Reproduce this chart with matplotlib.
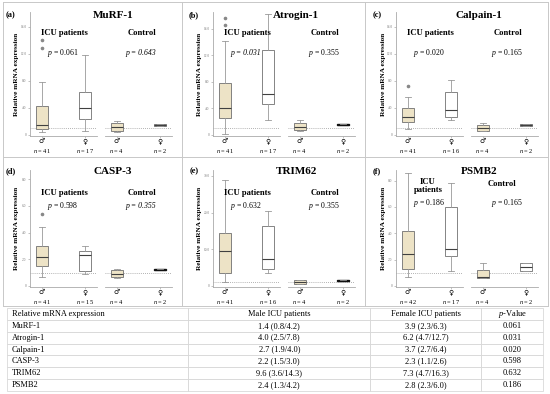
import matplotlib
matplotlib.use("Agg")
import matplotlib.pyplot as plt
from matplotlib.lines import Line2D

plt.rcParams['font.family'] = ['Liberation Serif', 'DejaVu Sans']
plt.rcParams['mathtext.fontset'] = 'custom'
plt.rcParams['mathtext.rm'] = 'Liberation Serif'
plt.rcParams['mathtext.it'] = 'Liberation Serif:italic'
plt.rcParams['mathtext.bf'] = 'Liberation Serif:bold'

genes = ["MuRF-1", "Atrogin-1", "Calpain-1", "CASP-3", "TRIM62", "PSMB2"]
letters = ["(a)", "(b)", "(c)", "(d)", "(e)", "(f)"]

icu_m_med = [1.4, 4.0, 2.7, 2.2, 9.6, 2.4]
icu_m_q1 = [0.8, 2.5, 1.9, 1.5, 3.6, 1.3]
icu_m_q3 = [4.2, 7.8, 4.0, 3.0, 14.3, 4.2]
icu_m_lo = [0.4, 0.1, 0.9, 0.7, 1.0, 0.7]
icu_m_hi = [7.8, 14.2, 5.6, 4.4, 29.0, 8.6]
icu_m_out = [[12.9, 14.1], [16.5, 17.6], [7.2], [5.4], [], []]

icu_f_med = [3.9, 6.2, 3.7, 2.3, 7.3, 2.8]
icu_f_q1 = [2.3, 4.7, 2.7, 1.1, 4.7, 2.3]
icu_f_q3 = [6.3, 12.7, 6.4, 2.6, 16.3, 6.0]
icu_f_lo = [0.5, 2.2, 2.2, 0.9, 3.5, 1.1]
icu_f_hi = [11.8, 18.2, 8.1, 3.0, 20.5, 7.8]

ctl_m_med = [1.1, 1.1, 1.0, 0.9, 1.0, 0.7]
ctl_m_q1 = [0.6, 0.7, 0.6, 0.7, 0.5, 0.6]
ctl_m_q3 = [1.8, 1.7, 1.4, 1.2, 1.5, 1.2]
ctl_m_lo = [0.4, 0.5, 0.5, 0.6, 0.4, 0.6]
ctl_m_hi = [2.0, 2.3, 1.8, 1.3, 1.6, 1.7]

ctl_f_med = [1.45, 1.5, 1.45, 1.2, 1.4, 1.4]
ctl_f_q1 = [1.3, 1.42, 1.3, 1.16, 1.25, 1.1]
ctl_f_q3 = [1.6, 1.58, 1.6, 1.24, 1.55, 1.7]

n_icu_m = [41, 41, 41, 41, 41, 42]
n_icu_f = [17, 17, 16, 15, 16, 17]
n_ctl_m = [4, 4, 4, 4, 4, 4]
n_ctl_f = [2, 2, 2, 2, 2, 2]

p_icu = ["0.061", "0.031", "0.020", "0.598", "0.632", "0.186"]
p_ctl = ["0.643", "0.355", "0.165", "0.355", "0.355", "0.165"]
p_icu_italic = [False, True, False, False, False, False]
p_ctl_italic = [True, False, False, True, False, False]

yticks = [[0, 4, 8, 12, 16]] * 3 + [[0, 2, 4, 6, 8], [0, 10, 20, 30], [0, 2, 4, 6, 8]]
ytop = [18.2, 18.5, 18.2, 8.7, 31.6, 8.8]

# ---- styles ----
BEIGE = "#ede3c6"
ctl_f_fill = ["#9a9a9a", "#111111", "#9a9a9a", "#111111", "#111111", "white"]
FRAME = "#c8c8c8"
W, H = 550, 394


def fx(x):
    return x / W


def fy(y):
    return 1 - y / H


def stats(med, q1, q3, lo, hi, fl=()):
    return dict(med=med, q1=q1, q3=q3, whislo=lo, whishi=hi, fliers=list(fl))


def draw_boxes(ax, data, fills, pos=(1, 2)):
    bp = ax.bxp(data, positions=list(pos), widths=0.28, patch_artist=True,
                showfliers=True, capwidths=0.14,
                boxprops=dict(edgecolor="#707070", linewidth=0.6),
                whiskerprops=dict(color="#999999", linewidth=0.6),
                capprops=dict(color="#999999", linewidth=0.6),
                medianprops=dict(color="#404040", linewidth=0.8),
                flierprops=dict(marker="o", markersize=1.6, markerfacecolor="#888888",
                                markeredgecolor="#888888"))
    for b, m, c in zip(bp["boxes"], bp["medians"], fills):
        b.set_facecolor(c)
        if c == "#111111":
            b.set_edgecolor(c)
            b.set_linewidth(1.0)
            m.set_color(c)


def style_axis(ax, left):
    for s in ["top", "right"]:
        ax.spines[s].set_visible(False)
    ax.spines["bottom"].set_color("#aaaaaa")
    ax.spines["bottom"].set_linewidth(0.6)
    ax.spines["left"].set_color("#aaaaaa")
    ax.spines["left"].set_linewidth(0.6)
    ax.spines["left"].set_visible(left)
    ax.set_xlim(0.72, 2.28)
    ax.set_xticks([1, 2])
    ax.set_xticklabels(["\u2642", "\u2640"], fontfamily="DejaVu Sans", fontsize=5)
    ax.tick_params(axis="x", length=1.5, width=0.5, color="#aaaaaa", pad=0.3)
    ax.tick_params(axis="y", length=1.5, width=0.5, color="#aaaaaa", pad=1,
                   labelsize=2.5, labelcolor="#777777", left=left, labelleft=left)
    ax.axhline(1, color="#999999", lw=0.6, ls=(0, (1, 1.5)), zorder=0.5)
    ax.patch.set_alpha(0)


fig = plt.figure(figsize=(W / 100, H / 100), dpi=100)

panel_x = [0, 183, 366, 0, 183, 366]
panel_top = [0, 0, 0, 156, 156, 156]

for i, g in enumerate(genes):
    x0, t0 = panel_x[i], panel_top[i]
    top_px, bot_px = (12, 136) if i < 3 else (170, 287)
    h = (bot_px - top_px) / H
    ax1 = fig.add_axes([fx(x0 + 30), fy(bot_px), 67 / W, h])
    ax2 = fig.add_axes([fx(x0 + 105), fy(bot_px), 67 / W, h])

    draw_boxes(ax1, [stats(icu_m_med[i], icu_m_q1[i], icu_m_q3[i], icu_m_lo[i], icu_m_hi[i], icu_m_out[i]),
                     stats(icu_f_med[i], icu_f_q1[i], icu_f_q3[i], icu_f_lo[i], icu_f_hi[i])],
               [BEIGE, "white"])
    draw_boxes(ax2, [stats(ctl_m_med[i], ctl_m_q1[i], ctl_m_q3[i], ctl_m_lo[i], ctl_m_hi[i]),
                     stats(ctl_f_med[i], ctl_f_q1[i], ctl_f_q3[i], ctl_f_q1[i], ctl_f_q3[i])],
               [BEIGE, ctl_f_fill[i]])

    for ax, left in [(ax1, True), (ax2, False)]:
        style_axis(ax, left)
        ax.set_ylim(-0.01 * ytop[i], ytop[i])
        ax.set_yticks(yticks[i])
        ax.set_yticklabels(["0"] + [f"{v:.1f}" for v in yticks[i][1:]])

    for ax, ns in [(ax1, (n_icu_m[i], n_icu_f[i])), (ax2, (n_ctl_m[i], n_ctl_f[i]))]:
        for pos, n in zip([1, 2], ns):
            ax.annotate(f"$n$ = {n}", xy=(pos, 0), xycoords=("data", "axes fraction"),
                        xytext=(0, -11), textcoords="offset points",
                        ha="center", va="center", fontsize=4.6)

    # labels
    fig.text(fx(x0 + 11), fy(t0 + 15), letters[i], fontsize=6, fontweight="bold",
             ha="center", va="center")
    fig.text(fx(x0 + 113), fy(t0 + 16), g, fontsize=8, fontweight="bold",
             ha="center", va="center")
    fig.text(fx(x0 + 17), fy((top_px + bot_px) / 2), "Relative mRNA expression",
             rotation=90, fontsize=5.2, fontweight="bold", ha="center", va="center")

    if i < 3:
        y_lab, y_p = t0 + 33, t0 + 53
    else:
        y_lab, y_p = t0 + 37, t0 + 50
    if g == "PSMB2":
        fig.text(fx(x0 + 62), fy(t0 + 30), "ICU\npatients", fontsize=6.2, fontweight="bold",
                 ha="center", va="center", linespacing=1.0)
        fig.text(fx(x0 + 136), fy(t0 + 28), "Control", fontsize=6.2, fontweight="bold",
                 ha="center", va="center")
        y_p = t0 + 47
    else:
        fig.text(fx(x0 + 64), fy(y_lab), "ICU patients", fontsize=6.2, fontweight="bold",
                 ha="center", va="center")
        fig.text(fx(x0 + 142), fy(y_lab), "Control", fontsize=6.2, fontweight="bold",
                 ha="center", va="center")
    for xc, pv, it in [(x0 + 63, p_icu[i], p_icu_italic[i]), (x0 + 141, p_ctl[i], p_ctl_italic[i])]:
        if it:
            fig.text(fx(xc), fy(y_p), f"p = {pv}", fontsize=5.6, fontstyle="italic",
                     ha="center", va="center")
        else:
            fig.text(fx(xc), fy(y_p), f"$p$ = {pv}", fontsize=5.6, ha="center", va="center")

# panel frame lines
for xv in [3, 182, 365, 548]:
    fig.add_artist(Line2D([fx(xv), fx(xv)], [fy(2), fy(306)], color=FRAME, lw=0.7))
for yv in [2, 157, 306]:
    fig.add_artist(Line2D([fx(3), fx(548)], [fy(yv), fy(yv)], color=FRAME, lw=0.7))

# ---- summary table ----
header = ["Relative mRNA expression", "Male ICU patients", "Female ICU patients", "$p$-Value"]
rows = []
for i, g in enumerate(genes):
    rows.append([g,
                 f"{icu_m_med[i]:.1f} ({icu_m_q1[i]:.1f}/{icu_m_q3[i]:.1f})",
                 f"{icu_f_med[i]:.1f} ({icu_f_q1[i]:.1f}/{icu_f_q3[i]:.1f})",
                 p_icu[i]])

tax = fig.add_axes([fx(7), fy(391), (543 - 7) / W, (391 - 308) / H])
tax.axis("off")
tbl = tax.table(cellText=rows, colLabels=header, colWidths=[0.338, 0.34, 0.207, 0.115],
                cellLoc="center", bbox=[0, 0, 1, 1])
tbl.auto_set_font_size(False)
tbl.set_fontsize(6)
for (r, c), cell in tbl.get_celld().items():
    cell.set_edgecolor("#d2d2d2")
    cell.set_linewidth(0.5)
    if c == 0:
        cell.get_text().set_horizontalalignment("left")
        cell.PAD = 0.025

fig.savefig("out.png", dpi=100)
